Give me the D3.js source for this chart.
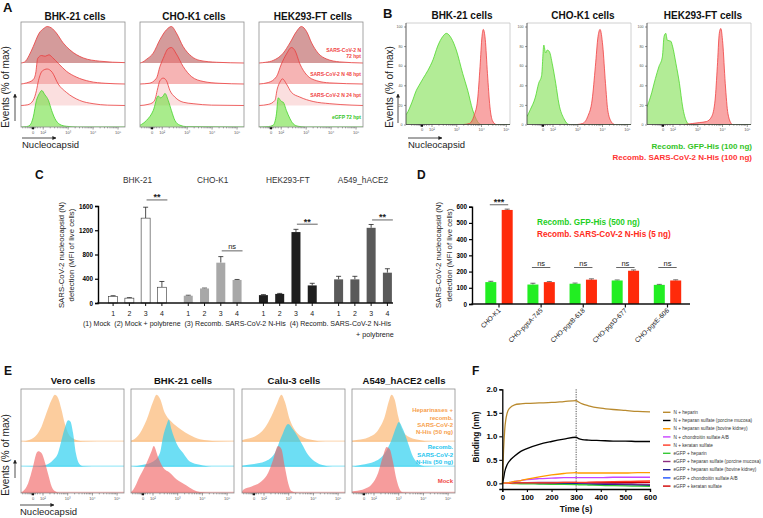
<!DOCTYPE html>
<html><head><meta charset="utf-8">
<script src="https://cdn.jsdelivr.net/npm/d3@7/dist/d3.min.js"></script>
<style>html,body{margin:0;padding:0;background:#fff;}svg{display:block;}</style>
</head><body>
<script>
// ================= DATA =================
// flow-cytometry histograms: [decade position on display axis, % of max]
const histTickU = [1.6, 2, 3, 4, 5];
const histTickLabels = ["0", "10²", "10³", "10⁴", "10⁵"];
const histPctTicks = [0, 20, 40, 60, 80, 100];

// Panel A
const aCells = ["BHK-21 cells", "CHO-K1 cells", "HEK293-FT cells"];
const aCondLabels = [["SARS-CoV-2 N", "72 hpt"], ["SARS-CoV-2 N 48 hpt"], ["SARS-CoV-2 N 24 hpt"], ["eGFP 72 hpt"]];
const aBHK_N72 = [[1.13,0],[1.28,3],[1.45,20],[1.62,45],[1.86,82],[2.05,95],[2.18,100],[2.35,96],[2.55,82],[2.82,55],[3.09,36],[3.62,14],[4.29,5],[5.3,1]];
const aBHK_N48 = [[1.13,0],[1.35,3],[1.62,12],[1.72,30],[1.8,70],[1.95,78],[2.1,76],[2.25,80],[2.4,72],[2.62,57],[2.95,35],[3.35,19],[3.89,7],[4.5,2],[5.3,0]];
const aBHK_N24 = [[1.13,0],[1.4,2],[1.62,14],[1.75,41],[1.83,68],[1.99,95],[2.18,100],[2.38,91],[2.62,59],[2.95,36],[3.48,14],[4.02,5],[4.6,1],[5.3,0]];
const aBHK_GFP = [[1.13,0],[1.35,1],[1.49,5],[1.62,27],[1.75,73],[1.86,91],[1.96,100],[2.09,88],[2.23,73],[2.36,45],[2.49,23],[2.69,7],[2.95,2],[3.4,0],[5.3,0]];
const aCHO_N72 = [[1.13,0],[1.25,3],[1.39,10],[1.66,27],[1.93,64],[2.19,91],[2.39,100],[2.59,82],[2.86,45],[3.2,18],[3.53,7],[4.2,2],[5.3,0]];
const aCHO_N48 = [[1.13,0],[1.5,2],[1.79,16],[1.93,48],[2.06,70],[2.26,97],[2.39,100],[2.59,82],[2.86,48],[3.2,20],[3.66,7],[4.3,2],[5.3,0]];
const aCHO_N24 = [[1.13,0],[1.45,3],[1.66,9],[1.75,20],[1.82,41],[1.93,68],[2.06,75],[2.19,68],[2.33,41],[2.53,23],[2.86,9],[3.26,5],[4,1],[5.3,0]];
const aCHO_GFP = [[1.13,5],[1.19,7],[1.39,18],[1.66,45],[1.86,85],[1.95,80],[2.06,85],[2.13,92],[2.26,73],[2.39,45],[2.53,18],[2.73,5],[3.0,1],[5.3,0]];
const aHEK_N72 = [[1.13,0],[1.4,2],[1.7,7],[2.1,27],[2.37,55],[2.63,86],[2.83,100],[3.04,86],[3.24,55],[3.5,27],[3.84,11],[4.37,3],[5.3,0]];
const aHEK_N48 = [[1.13,0],[1.5,4],[1.83,20],[2.03,55],[2.23,82],[2.43,100],[2.57,92],[2.77,55],[3.04,25],[3.44,9],[3.97,3],[5.3,0]];
const aHEK_N24 = [[1.13,0],[1.5,3],[1.77,14],[1.86,45],[1.97,64],[2.07,73],[2.23,59],[2.43,36],[2.77,23],[3.3,11],[3.97,5],[4.86,1],[5.3,0]];
const aHEK_GFP = [[1.13,0],[1.5,1],[1.7,5],[1.83,36],[1.9,80],[1.97,75],[2.03,70],[2.1,68],[2.23,45],[2.37,23],[2.5,9],[2.7,2],[3,0],[5.3,0]];

// Panel B
const bCells = ["BHK-21 cells", "CHO-K1 cells", "HEK293-FT cells"];
const bLegend = ["Recomb. GFP-His (100 ng)", "Recomb. SARS-CoV-2 N-His (100 ng)"];
const bBHK_GFP = [[0.97,10],[1.0,11],[1.2,22],[1.39,35],[1.5,40],[1.66,47],[1.85,55],[2.06,66],[2.25,80],[2.46,90],[2.6,93],[2.8,88],[3.0,76],[3.26,52],[3.46,35],[3.66,15],[3.86,3],[4.0,0],[5.17,0]];
const bBHK_N = [[3.3,0],[3.53,1],[3.73,10],[3.86,25],[3.96,59],[4.04,90],[4.09,97],[4.17,87],[4.26,52],[4.36,18],[4.46,4],[4.6,0]];
const bCHO_GFP = [[0.97,8],[1.1,15],[1.31,28],[1.44,42],[1.56,50],[1.65,81],[1.72,73],[1.79,76],[1.88,74],[1.99,62],[2.13,42],[2.26,21],[2.46,6],[2.67,0],[5.17,0]];
const bCHO_N = [[3.0,0],[3.21,1],[3.42,8],[3.6,25],[3.73,59],[3.84,90],[3.92,97],[4.03,80],[4.14,42],[4.23,15],[4.37,3],[4.5,0]];
const bHEK_GFP = [[0.97,18],[1.11,28],[1.31,47],[1.45,59],[1.59,69],[1.66,90],[1.73,93],[1.79,86],[1.93,85],[2.0,80],[2.14,62],[2.28,42],[2.41,18],[2.55,4],[2.69,0],[5.17,0]];
const bHEK_N = [[2.5,0],[2.8,1],[3.1,2],[3.37,3],[3.58,8],[3.72,25],[3.81,59],[3.89,93],[3.95,98],[4.03,83],[4.13,42],[4.24,11],[4.4,0]];

// Panel C
const cGroups = ["BHK-21", "CHO-K1", "HEK293-FT", "A549_hACE2"];
const cConds = ["1", "2", "3", "4"];
const cBHK = [110, 80, 1400, 260],  cBHKerr = [10, 8, 180, 95];
const cCHO = [120, 240, 665, 380],  cCHOerr = [8, 6, 100, 8];
const cHEK = [130, 150, 1170, 290], cHEKerr = [8, 8, 45, 35];
const cA549 = [390, 390, 1240, 500], cA549err = [50, 50, 55, 65];
const cYTicks = [0, 400, 800, 1200, 1600];
const cSig = ["**", "ns", "**", "**"];
const cSigLevel = [1700, 860, 1300, 1370];
const cLegendText = "(1) Mock  (2) Mock + polybrene  (3) Recomb. SARS-CoV-2 N-His  (4) Recomb. SARS-CoV-2 N-His";
const cLegendText2 = "+ polybrene";

// Panel D
const dCells = ["CHO-K1", "CHO-pgsA-745", "CHO-pgsB-618", "CHO-pgsD-677", "CHO-pgsE-606"];
const dGFP = [135, 120, 125, 145, 118], dGFPerr = [5, 8, 4, 3, 3];
const dN = [580, 135, 150, 205, 145],   dNerr = [5, 3, 5, 5, 4];
const dYTicks = [0, 100, 200, 300, 400, 500, 600];
const dSig = ["***", "ns", "ns", "ns", "ns"];
const dSigLevel = [612, 225, 225, 225, 225];
const dLegend = ["Recomb. GFP-His (500 ng)", "Recomb. SARS-CoV-2 N-His (5 ng)"];

// Panel E
const eCells = ["Vero cells", "BHK-21 cells", "Calu-3 cells", "A549_hACE2 cells"];
const eLegend = [["Heparinases +", "recomb.", "SARS-CoV-2", "N-His (50 ng)"], ["Recomb.", "SARS-CoV-2", "N-His (50 ng)"], ["Mock"]];
const eVero_Hep = [[1.13,0],[1.3,1],[1.49,4],[1.76,14],[1.96,32],[2.16,61],[2.37,89],[2.5,100],[2.63,93],[2.77,68],[2.9,39],[3.04,18],[3.24,7],[3.64,1],[4.2,0],[5.3,0]];
const eVero_N = [[1.13,0],[1.8,1],[2.16,4],[2.43,14],[2.63,29],[2.77,57],[2.9,82],[3.04,99],[3.13,96],[3.24,71],[3.35,29],[3.48,7],[3.64,1],[4,0],[5.3,0]];
const eVero_Mock = [[1.13,0],[1.22,4],[1.42,21],[1.62,57],[1.76,85],[1.83,89],[1.96,85],[2.1,65],[2.23,40],[2.37,14],[2.5,4],[2.7,0],[5.3,0]];
const eBHK_Hep = [[1.13,2],[1.22,4],[1.49,18],[1.76,46],[2.03,86],[2.16,100],[2.3,92],[2.5,61],[2.7,46],[2.9,36],[3.18,25],[3.51,14],[3.92,5],[4.59,1],[5.3,0]];
const eBHK_N = [[1.13,0],[1.62,4],[2.03,11],[2.3,29],[2.43,64],[2.57,89],[2.66,100],[2.77,79],[2.97,50],[3.24,29],[3.51,11],[3.92,4],[4.4,0],[5.3,0]];
const eBHK_Mock = [[1.13,2],[1.22,7],[1.49,36],[1.76,64],[1.96,89],[2.05,100],[2.23,76],[2.43,54],[2.7,43],[2.97,29],[3.31,18],[3.65,7],[3.92,2],[4.4,0],[5.3,0]];
const eCalu_Hep = [[1.13,3],[1.25,5],[1.65,11],[2.05,29],[2.32,54],[2.53,79],[2.73,100],[2.86,86],[3.07,46],[3.27,25],[3.54,11],[3.94,4],[4.5,0],[5.3,0]];
const eCalu_N = [[1.13,2],[1.38,4],[2.05,11],[2.46,29],[2.73,64],[3.0,91],[3.2,79],[3.54,50],[3.81,25],[4.08,11],[4.35,4],[4.8,0],[5.3,0]];
const eCalu_Mock = [[1.13,3],[1.18,7],[1.52,14],[1.92,25],[2.19,43],[2.39,71],[2.59,100],[2.73,93],[2.86,57],[3.0,21],[3.13,4],[3.4,0],[5.3,0]];
const eA549_Hep = [[1.13,2],[1.38,4],[1.78,9],[2.19,25],[2.46,54],[2.62,86],[2.73,100],[2.86,89],[3.0,54],[3.13,29],[3.4,11],[3.81,4],[4.4,0],[5.3,0]];
const eA549_N = [[1.13,0],[1.52,4],[2.05,11],[2.46,29],[2.73,57],[2.93,86],[3.02,95],[3.2,79],[3.4,50],[3.6,21],[3.81,7],[4.08,1],[4.5,0],[5.3,0]];
const eA549_Mock = [[1.13,3],[1.25,4],[1.65,9],[1.92,18],[2.19,43],[2.39,79],[2.53,98],[2.66,93],[2.8,64],[2.93,29],[3.07,7],[3.2,1],[3.5,0],[5.3,0]];

// Panel F
const fTime = [0, 5, 10, 20, 30, 50, 75, 100, 150, 200, 250, 300, 310, 325, 350, 400, 450, 500, 550, 600];
const fXTicks = [0, 100, 200, 300, 400, 500, 600];
const fYTicks = [0, 0.5, 1.0, 1.5, 2.0];
const fNames = ["N + heparin", "N + heparan sulfate (porcine mucosa)", "N + heparan sulfate (bovine kidney)", "N + chondroitin sulfate A/B", "N + keratan sulfate",
  "eGFP + heparin", "eGFP + heparan sulfate (porcine mucosa)", "eGFP + heparan sulfate (bovine kidney)", "eGFP + chondroitin sulfate A/B", "eGFP + keratan sulfate"];
const fN_heparin = [0,0.7,1.15,1.5,1.6,1.67,1.69,1.7,1.71,1.72,1.74,1.76,1.73,1.69,1.65,1.6,1.57,1.55,1.53,1.52];
const fN_HSpm = [0,0.1,0.25,0.4,0.48,0.58,0.68,0.74,0.83,0.89,0.94,0.98,0.95,0.93,0.92,0.91,0.9,0.9,0.89,0.89];
const fN_HSbk = [0,0,0.01,0.01,0.02,0.04,0.06,0.09,0.14,0.18,0.21,0.23,0.22,0.22,0.22,0.22,0.22,0.22,0.23,0.23];
const fN_CS = [0,0,0.01,0.01,0.02,0.04,0.06,0.08,0.1,0.11,0.12,0.12,0.12,0.12,0.12,0.12,0.13,0.13,0.13,0.13];
const fN_KS = [0,0,0,0,0,0.005,0.01,0.01,0.01,0.01,0.02,0.02,0.02,0.02,0.025,0.03,0.035,0.04,0.045,0.05];
const fG_heparin = [0,0,0,0,0,-0.005,-0.01,-0.01,-0.015,-0.02,-0.02,-0.025,-0.03,-0.03,-0.035,-0.045,-0.05,-0.055,-0.06,-0.065];
const fG_HSpm = [0,0,0,0.005,0.005,0.01,0.01,0.015,0.02,0.02,0.02,0.02,0.015,0.01,0.005,0,-0.005,-0.01,-0.015,-0.02];
const fG_HSbk = [0,0,0,0,0,0,0,0,0,0,-0.005,-0.005,-0.01,-0.01,-0.015,-0.02,-0.025,-0.03,-0.035,-0.04];
const fG_CS = [0,0,0,0,0,0,0,0,-0.005,-0.005,-0.01,-0.01,-0.01,-0.01,-0.015,-0.015,-0.02,-0.025,-0.025,-0.03];
const fG_KS = [0,0,0,0,0,0,0,0.005,0.005,0.01,0.01,0.01,0.01,0.01,0.01,0.015,0.015,0.015,0.02,0.02];
const fColors = ["#b98a2e", "#000000", "#ff9a00", "#c844ff", "#ff3a26", "#36c936", "#8b2c7e", "#1d1f8f", "#1f52ff", "#d00000"];

// ================= DRAWING =================
const FONT = '"Liberation Sans", Arial, Helvetica, sans-serif';
const svg = d3.select("body").append("svg").attr("width", 763).attr("height", 518)
  .style("font-family", FONT);
const defs = svg.append("defs");
defs.append("marker").attr("id", "ah").attr("viewBox", "0 0 10 10").attr("refX", 9).attr("refY", 5)
  .attr("markerWidth", 5).attr("markerHeight", 5).attr("orient", "auto")
  .append("path").attr("d", "M0,0L10,5L0,10z").attr("fill", "#222");

function txt(x, y, s, size, o = {}) {
  const t = svg.append("text").attr("x", x).attr("y", y).attr("font-size", size).text(s);
  if (o.bold) t.attr("font-weight", "bold");
  if (o.anchor) t.attr("text-anchor", o.anchor);
  t.attr("fill", o.fill || "#111");
  if (o.rotate != null) t.attr("transform", `rotate(${o.rotate},${x},${y})`);
  return t;
}
function arrow(x1, y1, x2, y2) {
  svg.append("line").attr("x1", x1).attr("y1", y1).attr("x2", x2).attr("y2", y2)
    .attr("stroke", "#222").attr("stroke-width", 0.8).attr("marker-end", "url(#ah)");
}

const histMinorU = [];
[1.2, 1.3, 1.38, 1.45, 1.5, 1.54, 1.58, 1.63, 1.67, 1.72, 1.8, 1.9].forEach(u => histMinorU.push(u));
[2, 3, 4].forEach(k => { for (let m = 2; m <= 9; m++) histMinorU.push(k + Math.log10(m)); });

let clipN = 0;
function histFrame(x0, y0, w, h, dom, style) {
  const id = "clip" + (clipN++);
  defs.append("clipPath").attr("id", id).append("rect").attr("x", x0).attr("y", y0).attr("width", w).attr("height", h);
  const x = d3.scaleLinear().domain(dom).range([x0, x0 + w]);
  const g = svg.append("g");
  const gc = g.append("g").attr("clip-path", `url(#${id})`);
  return { x, g, gc, x0, y0, w, h, style };
}
function hist(fr, data, base, hpx, fill, op, stroke, sw) {
  const y = d3.scaleLinear().domain([0, 100]).range([base, base - hpx]);
  const area = d3.area().x(d => fr.x(d[0])).y0(base).y1(d => y(d[1])).curve(d3.curveMonotoneX);
  fr.gc.append("path").datum(data).attr("d", area).attr("fill", fill).attr("fill-opacity", op);
  if (stroke) {
    const line = d3.line().x(d => fr.x(d[0])).y(d => y(d[1])).curve(d3.curveMonotoneX);
    fr.gc.append("path").datum(data).attr("d", line).attr("fill", "none").attr("stroke", stroke).attr("stroke-width", sw || 0.8);
  }
}
function finishFrame(fr) {
  const { g, x0, y0, w, h } = fr;
  if (fr.style === "box") {
    g.append("rect").attr("x", x0).attr("y", y0).attr("width", w).attr("height", h)
      .attr("fill", "none").attr("stroke", "#8e8e8e").attr("stroke-width", 0.8);
  } else {
    g.append("path").attr("d", `M${x0},${y0}H${x0 + w}V${y0 + h}`).attr("fill", "none").attr("stroke", "#c4c4c4").attr("stroke-width", 0.8);
    g.append("path").attr("d", `M${x0},${y0}V${y0 + h}H${x0 + w}`).attr("fill", "none").attr("stroke", "#333").attr("stroke-width", 0.8);
  }
  const yb = y0 + h;
  const ax = d3.axisBottom(fr.x).tickValues(histTickU).tickFormat((d, i) => histTickLabels[i]).tickSize(2.5).tickPadding(1.2);
  const ga = g.append("g").attr("transform", `translate(0,${yb})`).call(ax);
  ga.select(".domain").remove();
  ga.selectAll("line").attr("stroke", "#333").attr("stroke-width", 0.5);
  ga.selectAll("text").attr("font-size", 4).attr("fill", "#555").attr("font-family", FONT);
  const dm = fr.x.domain();
  g.append("g").selectAll("line").data(histMinorU.filter(u => u > dm[0] && u < dm[1])).join("line")
    .attr("x1", d => fr.x(d)).attr("x2", d => fr.x(d)).attr("y1", yb).attr("y2", yb + 1.4)
    .attr("stroke", "#333").attr("stroke-width", 0.4);
  g.append("rect").attr("x", fr.x(1.56)).attr("y", yb + 0.4).attr("width", 2.4).attr("height", 1.8).attr("fill", "#111");
}

// ---------- Panel A ----------
txt(3, 12, "A", 13, { bold: true });
const aX = [21, 140, 259];
const aData = [[aBHK_N72, aBHK_N48, aBHK_N24, aBHK_GFP], [aCHO_N72, aCHO_N48, aCHO_N24, aCHO_GFP], [aHEK_N72, aHEK_N48, aHEK_N24, aHEK_GFP]];
const aBase = [63, 84, 105.5, 127];
const aFill = ["#b04848", "#ee6a6a", "#f6b0b0", "#6fe040"];
const aOp = [0.55, 0.5, 0.4, 0.6];
const aStroke = ["#ea3c3c", "#ea3c3c", "#ea3c3c", "#44d42a"];
aX.forEach((x0, ci) => {
  const fr = histFrame(x0, 22, 104, 105, [1.13, 5.3], "box");
  aData[ci].forEach((d, r) => hist(fr, d, aBase[r], 36.5, aFill[r], aOp[r], aStroke[r], 0.8));
  finishFrame(fr);
  txt(x0 + 54, 20, aCells[ci], 10, { bold: true, anchor: "middle" });
});
[[52, 57.5], [75.5], [97], [118.5]].forEach((ys, r) => {
  ys.forEach((y, k) => txt(361, y, aCondLabels[r][k], 5, { bold: true, anchor: "end", fill: r === 3 ? "#33c41f" : "#f04444" }));
});
txt(9, 87, "Events (% of max)", 10, { anchor: "middle", rotate: -90, fill: "#222" });
arrow(15, 121, 15, 94);
arrow(22, 138, 56, 138);
txt(22, 148, "Nucleocapsid", 9.5, { fill: "#222" });

// ---------- Panel B ----------
txt(383, 18, "B", 13, { bold: true });
const bX = [406, 527, 647];
const bData = [[bBHK_GFP, bBHK_N], [bCHO_GFP, bCHO_N], [bHEK_GFP, bHEK_N]];
bX.forEach((x0, ci) => {
  const fr = histFrame(x0, 23, 104, 101.5, [0.97, 5.17], "axes");
  hist(fr, bData[ci][0], 124.5, 98, "#7ee050", 0.6, "#4fd82c", 0.8);
  hist(fr, bData[ci][1], 124.5, 98, "#f46a6a", 0.6, "#f04040", 0.8);
  finishFrame(fr);
  const y = d3.scaleLinear().domain([0, 100]).range([124.5, 26.5]);
  const ga = svg.append("g").attr("transform", `translate(${x0},0)`)
    .call(d3.axisLeft(y).tickValues(histPctTicks).tickSize(2).tickPadding(1.5));
  ga.select(".domain").remove();
  ga.selectAll("line").attr("stroke", "#333").attr("stroke-width", 0.5);
  ga.selectAll("text").attr("font-size", 3.6).attr("fill", "#555").attr("font-family", FONT);
  txt(x0 + 56, 19, bCells[ci], 10, { bold: true, anchor: "middle" });
});
txt(393, 87, "Events (% of max)", 10, { anchor: "middle", rotate: -90, fill: "#222" });
arrow(398, 123, 398, 94);
arrow(408, 138, 442, 138);
txt(408, 148, "Nucleocapsid", 9.5, { fill: "#222" });
txt(752, 149, bLegend[0], 8, { bold: true, anchor: "end", fill: "#33c41f" });
txt(752, 160, bLegend[1], 8, { bold: true, anchor: "end", fill: "#ff3333" });

// ---------- Panel C ----------
txt(35, 179, "C", 12, { bold: true });
const cG = d3.scalePoint().domain(cGroups).range([137.5, 363]);
const cB = d3.scalePoint().domain(cConds).range([-24.4, 24.4]);
const cY = d3.scaleLinear().domain([0, 1600]).range([303, 206]);
const cVals = [cBHK, cCHO, cHEK, cA549], cErrs = [cBHKerr, cCHOerr, cHEKerr, cA549err];
const cFill = ["#ffffff", "#a8a8a8", "#1f1f1f", "#5a5a5a"];
const cBW = 9;
cGroups.forEach((gname, gi) => {
  const gx = cG(gname);
  txt(gx, 183, gname, 8.3, { anchor: "middle", fill: "#333" });
  const gEl = svg.append("g");
  cConds.forEach((c, ci) => {
    const cx = gx + cB(c), v = cVals[gi][ci], e = cErrs[gi][ci];
    gEl.append("line").attr("x1", cx).attr("x2", cx).attr("y1", cY(v)).attr("y2", cY(v + e)).attr("stroke", "#222").attr("stroke-width", 0.8);
    gEl.append("line").attr("x1", cx - 2.5).attr("x2", cx + 2.5).attr("y1", cY(v + e)).attr("y2", cY(v + e)).attr("stroke", "#222").attr("stroke-width", 0.8);
    gEl.append("rect").attr("x", cx - cBW / 2).attr("y", cY(v)).attr("width", cBW).attr("height", cY(0) - cY(v))
      .attr("fill", cFill[gi]).attr("stroke", gi === 0 ? "#333" : "none").attr("stroke-width", 0.6);
    gEl.append("line").attr("x1", cx).attr("x2", cx).attr("y1", 303).attr("y2", 306).attr("stroke", "#111").attr("stroke-width", 1);
    txt(cx, 316, c, 7, { anchor: "middle", fill: "#222" });
  });
  const x3 = gx + cB("3"), x4 = gx + cB("4"), mid = (x3 + x4) / 2 + 3.2, ly = cY(cSigLevel[gi]);
  gEl.append("line").attr("x1", mid - 10.4).attr("x2", mid + 10.4).attr("y1", ly).attr("y2", ly).attr("stroke", "#222").attr("stroke-width", 0.7);
  if (cSig[gi] === "ns") txt(mid, ly - 1.8, "ns", 7.5, { anchor: "middle", fill: "#222" });
  else txt(mid, ly + 0.5, cSig[gi], 9, { anchor: "middle", bold: true, fill: "#222" });
});
{
  const ga = svg.append("g").attr("transform", "translate(98,0)").call(d3.axisLeft(cY).tickValues(cYTicks).tickFormat(d3.format("d")).tickSize(3).tickPadding(2));
  ga.select(".domain").attr("stroke-width", 1.4);
  ga.selectAll("line").attr("stroke-width", 1.2);
  ga.selectAll("text").attr("font-size", 6.3).attr("font-weight", "bold").attr("font-family", FONT);
  svg.append("line").attr("x1", 97.3).attr("x2", 393).attr("y1", 303).attr("y2", 303).attr("stroke", "#111").attr("stroke-width", 1.4);
}
txt(64, 255, "SARS-CoV-2 nucleocapsid (N)", 7.8, { anchor: "middle", rotate: -90, fill: "#222" });
txt(74, 255, "detection (MFI of live cells)", 7.8, { anchor: "middle", rotate: -90, fill: "#222" });
txt(83, 326, cLegendText, 7.2, { fill: "#222" }).attr("xml:space", "preserve").attr("textLength", 308).attr("lengthAdjust", "spacingAndGlyphs");
txt(356, 337, cLegendText2, 7.2, { fill: "#222" });

// ---------- Panel D ----------
txt(417, 179, "D", 12, { bold: true });
const dX = d3.scalePoint().domain(dCells).range([499, 667.5]);
const dY = d3.scaleLinear().domain([0, 600]).range([304, 206.7]);
const dBW = 11, dOff = 8.2;
dCells.forEach((cell, i) => {
  const cx = dX(cell);
  [[dGFP[i], dGFPerr[i], "#22ee22", -dOff], [dN[i], dNerr[i], "#ff2a0a", dOff]].forEach(([v, e, col, off]) => {
    const bx = cx + off;
    svg.append("line").attr("x1", bx).attr("x2", bx).attr("y1", dY(v)).attr("y2", dY(v + e)).attr("stroke", "#444").attr("stroke-width", 0.8);
    svg.append("line").attr("x1", bx - 2.5).attr("x2", bx + 2.5).attr("y1", dY(v + e)).attr("y2", dY(v + e)).attr("stroke", "#444").attr("stroke-width", 0.8);
    svg.append("rect").attr("x", bx - dBW / 2).attr("y", dY(v)).attr("width", dBW).attr("height", dY(0) - dY(v)).attr("fill", col);
  });
  svg.append("line").attr("x1", cx).attr("x2", cx).attr("y1", 304).attr("y2", 307.5).attr("stroke", "#111").attr("stroke-width", 1.2);
  txt(cx + 2, 311, cell, 6.6, { anchor: "end", rotate: -45, fill: "#222" });
  const ly = dY(dSigLevel[i]);
  svg.append("line").attr("x1", cx - dOff - 1).attr("x2", cx + dOff + 1).attr("y1", ly).attr("y2", ly).attr("stroke", "#222").attr("stroke-width", 0.7);
  if (dSig[i] === "ns") txt(cx, ly - 1.8, "ns", 7.5, { anchor: "middle", fill: "#222" });
  else txt(cx, ly + 0.5, dSig[i], 9, { anchor: "middle", bold: true, fill: "#222" });
});
{
  const ga = svg.append("g").attr("transform", "translate(472,0)").call(d3.axisLeft(dY).tickValues(dYTicks).tickFormat(d3.format("d")).tickSize(3).tickPadding(2));
  ga.select(".domain").attr("stroke-width", 1.4);
  ga.selectAll("line").attr("stroke-width", 1.2);
  ga.selectAll("text").attr("font-size", 6.3).attr("font-weight", "bold").attr("font-family", FONT);
  svg.append("line").attr("x1", 471.3).attr("x2", 690).attr("y1", 304).attr("y2", 304).attr("stroke", "#111").attr("stroke-width", 1.4);
}
txt(441, 255, "SARS-CoV-2 nucleocapsid (N)", 7.8, { anchor: "middle", rotate: -90, fill: "#222" });
txt(452, 255, "detection (MFI of live cells)", 7.8, { anchor: "middle", rotate: -90, fill: "#222" });
txt(537, 225, dLegend[0], 8.2, { bold: true, fill: "#1fcf1f" });
txt(537, 237, dLegend[1], 8.2, { bold: true, fill: "#ff2a1a" });

// ---------- Panel E ----------
txt(4, 375, "E", 12, { bold: true });
const eX = [21, 131, 242, 352];
const eData = [[eVero_Hep, eVero_N, eVero_Mock], [eBHK_Hep, eBHK_N, eBHK_Mock], [eCalu_Hep, eCalu_N, eCalu_Mock], [eA549_Hep, eA549_N, eA549_Mock]];
const eBase = [441.7, 466.7, 493];
const eFill = ["#fbb26a", "#2fd0f0", "#f06060"];
const eOp = [0.65, 0.7, 0.62];
eX.forEach((x0, ci) => {
  const fr = histFrame(x0, 389, 103, 104, [1.13, 5.3], "box");
  eData[ci].forEach((d, r) => {
    fr.gc.append("line").attr("x1", x0).attr("x2", x0 + 103).attr("y1", eBase[r] - 0.6).attr("y2", eBase[r] - 0.6)
      .attr("stroke", eFill[r]).attr("stroke-opacity", 0.45).attr("stroke-width", 1.3);
    hist(fr, d, eBase[r], 47, eFill[r], eOp[r], null);
  });
  finishFrame(fr);
  txt(x0 + 52, 384, eCells[ci], 9.5, { bold: true, anchor: "middle" });
});
const eLegCol = ["#f7a04c", "#1ec4ee", "#f04848"];
[[412, 419.5, 427, 434], [449, 456.5, 464], [483]].forEach((ys, r) => {
  ys.forEach((y, k) => txt(453, y, eLegend[r][k], 6, { bold: true, anchor: "end", fill: eLegCol[r] }));
});
txt(9, 455, "Events (% of max)", 10, { anchor: "middle", rotate: -90, fill: "#222" });
arrow(15, 478, 15, 460);
arrow(20, 505, 54, 505);
txt(20, 515, "Nucleocapsid", 9.5, { fill: "#222" });

// ---------- Panel F ----------
txt(472, 375, "F", 12, { bold: true });
const fX = d3.scaleLinear().domain([0, 600]).range([502.3, 650]);
const fY = d3.scaleLinear().domain([-0.12, 2.0]).range([489, 389.3]);
const fSeries = [fN_heparin, fN_HSpm, fN_HSbk, fN_CS, fN_KS, fG_heparin, fG_HSpm, fG_HSbk, fG_CS, fG_KS];
const fLine = d3.line().x((d, i) => fX(fTime[i])).y(d => fY(d)).curve(d3.curveMonotoneX);
svg.append("line").attr("x1", fX(300)).attr("x2", fX(300)).attr("y1", fY(2.0)).attr("y2", fY(-0.12))
  .attr("stroke", "#222").attr("stroke-width", 0.8).attr("stroke-dasharray", "1.2,1.2");
for (let i = fSeries.length - 1; i >= 0; i--) {
  svg.append("path").datum(fSeries[i]).attr("d", fLine).attr("fill", "none").attr("stroke", fColors[i]).attr("stroke-width", 1.3);
}
{
  const gy = svg.append("g").attr("transform", `translate(${fX(0)},0)`).call(d3.axisLeft(fY).tickValues(fYTicks).tickFormat(d3.format(".1f")).tickSize(3).tickPadding(2));
  gy.select(".domain").attr("stroke-width", 1.3);
  gy.selectAll("line").attr("stroke-width", 1.1);
  gy.selectAll("text").attr("font-size", 7.8).attr("font-weight", "bold").attr("font-family", FONT);
  const gx = svg.append("g").attr("transform", `translate(0,${fY(-0.12)})`).call(d3.axisBottom(fX).tickValues(fXTicks).tickSize(3).tickPadding(2));
  gx.select(".domain").attr("stroke-width", 1.3);
  gx.selectAll("line").attr("stroke-width", 1.1);
  gx.selectAll("text").attr("font-size", 7.8).attr("font-weight", "bold").attr("font-family", FONT);
}
txt(576, 512, "Time (s)", 8.5, { bold: true, anchor: "middle" });
txt(479, 437, "Binding (nm)", 8.3, { bold: true, anchor: "middle", rotate: -90 });
fNames.forEach((n, i) => {
  const y = 412.3 + i * 8.2;
  svg.append("line").attr("x1", 663).attr("x2", 670.5).attr("y1", y).attr("y2", y).attr("stroke", fColors[i]).attr("stroke-width", 1.4);
  txt(673.5, y + 1.6, n, 4.7, { fill: "#333" });
});
</script>
</body></html>
